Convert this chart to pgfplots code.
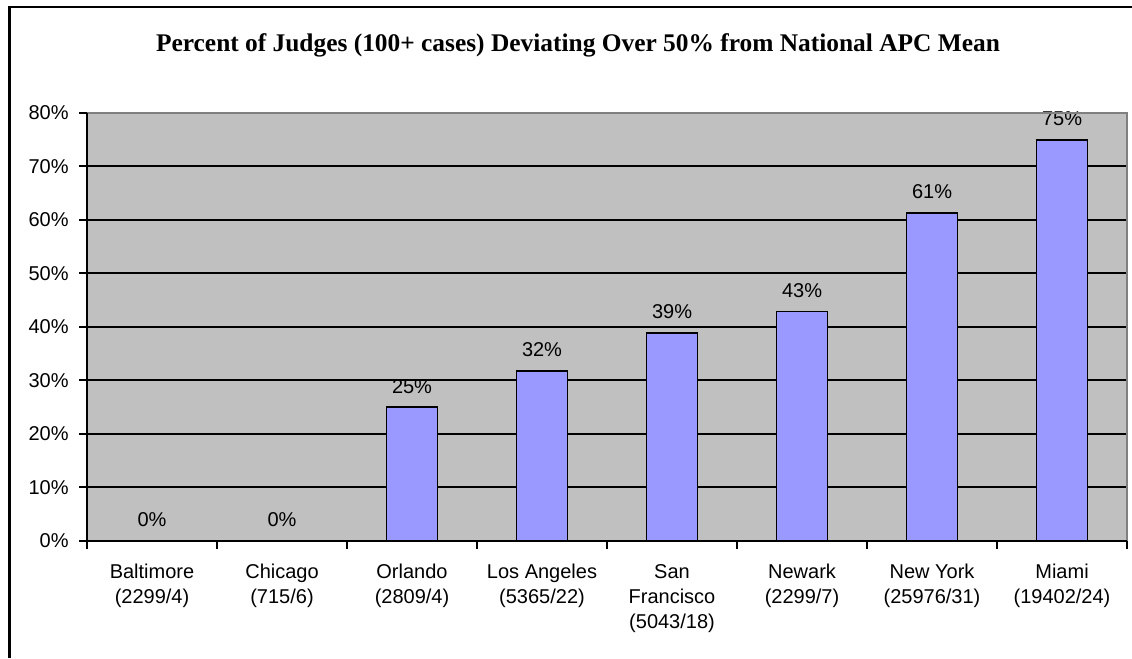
\documentclass[border=0pt]{standalone}
\usepackage{pgfplots}
\pgfplotsset{compat=1.18}
\usepackage{fontspec}
\setmainfont{Liberation Sans}
\newfontfamily\titlefont{Liberation Serif}

\definecolor{plotgray}{HTML}{C0C0C0}
\definecolor{bordergray}{HTML}{808080}
\definecolor{barblue}{HTML}{9999FF}

\newcommand{\lblfont}{\fontsize{10bp}{12.5bp}\selectfont}

\begin{document}
\begin{tikzpicture}[x=0.5bp,y=0.5bp]
\useasboundingbox (0,0) rectangle (1132,658);
% chart frame (only left and top edges are visible)
\draw[line width=1.1bp] (9.5,0) -- (9.5,651) -- (1132,651);
% title
\node[anchor=base, font=\titlefont\bfseries\fontsize{12.7bp}{15bp}\selectfont]
  at (578,606) {Percent of Judges (100+ cases) Deviating Over 50\% from National APC Mean};

\begin{axis}[
    at={(43.5bp,58.5bp)}, anchor=south west,
    scale only axis,
    width=520bp, height=214bp,
    xmin=-0.5, xmax=7.5,
    ymin=0, ymax=80,
    ybar, bar width=25.5bp,
    axis line style={draw=none},
    axis background/.style={fill=plotgray},
    ytick={0,10,...,80},
    yticklabels={0\%,10\%,20\%,30\%,40\%,50\%,60\%,70\%,80\%},
    % ticks sit between the categories, names sit under the bars
    xtick={-0.5,0.5,...,7.5},
    xticklabels={},
    extra x ticks={0,...,7},
    extra x tick labels={Baltimore\\(2299/4), Chicago\\(715/6), Orlando\\(2809/4),
                 Los Angeles\\(5365/22), San\\Francisco\\(5043/18),
                 Newark\\(2299/7), New York\\(25976/31), Miami\\(19402/24)},
    extra x tick style={major tick length=0pt},
    tick pos=left,
    tick align=outside,
    major tick length=4bp,
    every tick/.style={black, line width=1bp},
    ymajorgrids,
    grid style={black, line width=1bp},
    ticklabel style={font=\lblfont, text=black},
    xticklabel style={align=center, anchor=north, inner sep=0pt, yshift=-11.5bp},
    yticklabel style={anchor=east, inner sep=0pt, xshift=-5bp},
    nodes near coords={\pgfmathprintnumber[fixed,precision=0,assume math mode=true]{\pgfplotspointmeta}\%},
    every node near coord/.append style={font=\lblfont, anchor=center, yshift=10.5bp, text=black},
    clip=false,
    after end axis/.code={
        \draw[bordergray, line width=1bp] (rel axis cs:0,1) -- (rel axis cs:1,1) -- (rel axis cs:1,0);
        \draw[black, line width=1bp] (rel axis cs:0,1) -- (rel axis cs:0,0) -- (rel axis cs:1,0);
    },
]
% share of judges per city, in percent
\addplot[fill=barblue, draw=black, line width=0.8bp, bar shift=0pt] coordinates {
    (0,0) (1,0) (2,25) (3,31.8) (4,38.9) (5,42.9) (6,61.3) (7,75)
};
\end{axis}
\end{tikzpicture}
\end{document}
